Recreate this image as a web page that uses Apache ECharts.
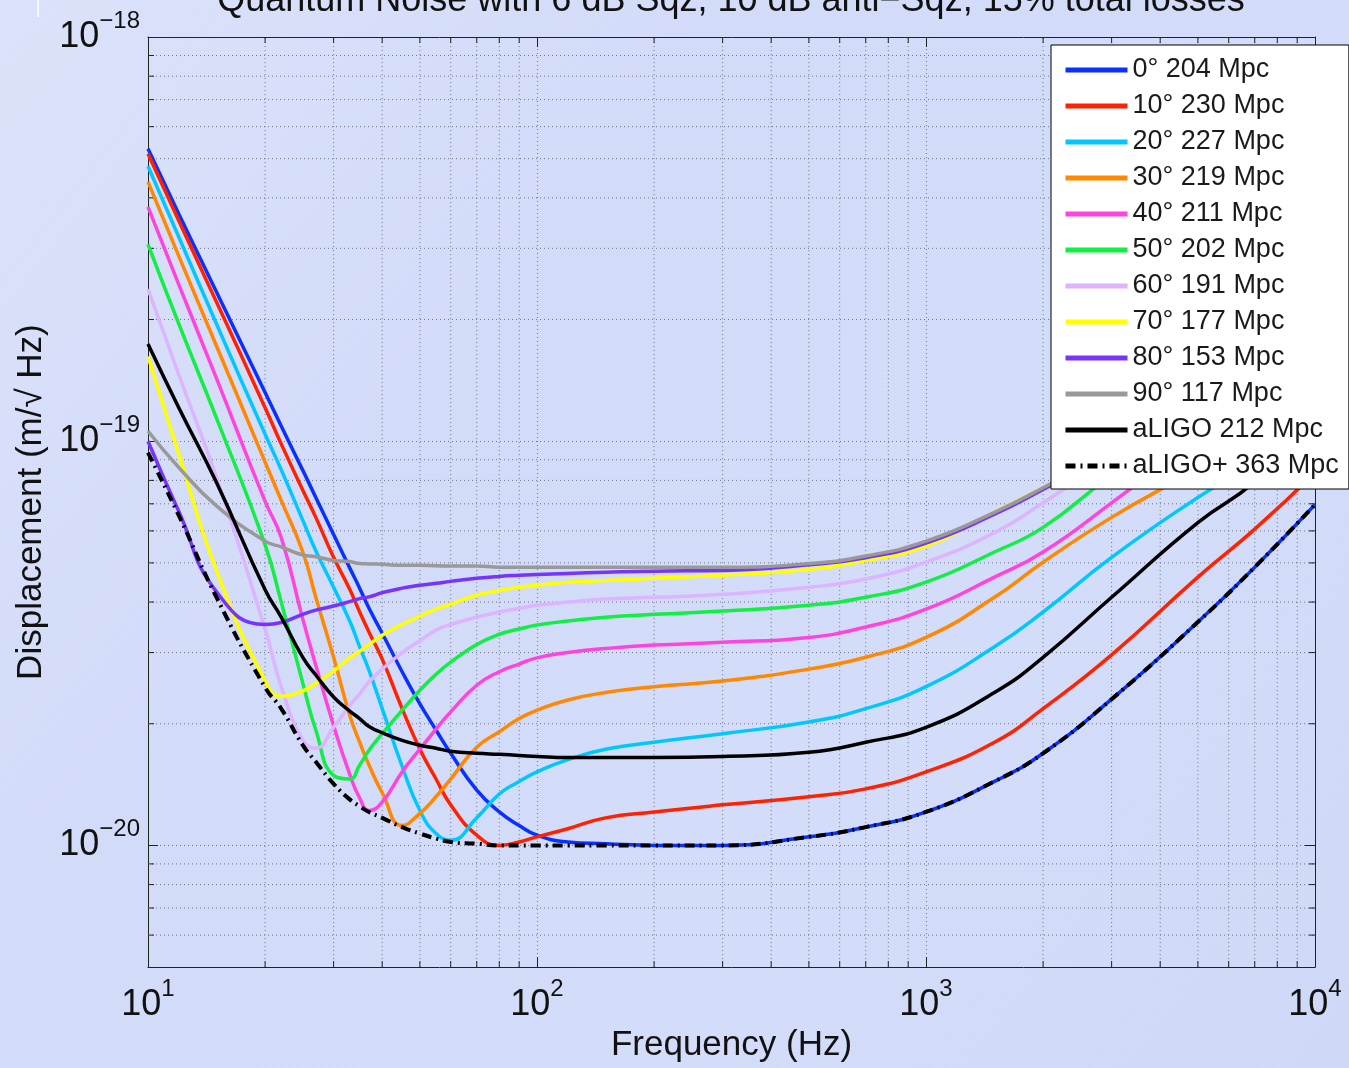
<!DOCTYPE html>
<html><head><meta charset="utf-8">
<script src="https://cdn.jsdelivr.net/npm/echarts@6/dist/echarts.min.js"></script>
<style>html,body{margin:0;padding:0;background:#d4ddf8;}#c{width:1349px;height:1068px;}</style>
</head><body><div id="c"></div>
<script>
// Frequencies (Hz) shared by all curves
const freqs = [10,12,15,20,22,25,27,30,33,35,37,40,45,50,55,60,70,80,90,100,120,150,200,300,500,700,1000,1500,2000,3000,5000,7000,10000];
// Displacement noise (m/sqrt(Hz)) per squeeze angle
const sqz0  = [5.29e-19,3.65e-19,2.34e-19,1.32e-19,1.09e-19,8.47e-20,7.26e-20,5.88e-20,4.86e-20,4.33e-20,3.86e-20,3.35e-20,2.69e-20,2.24e-20,1.93e-20,1.69e-20,1.37e-20,1.21e-20,1.12e-20,1.06e-20,1.02e-20,1.01e-20,1.00e-20,1.00e-20,1.05e-20,1.11e-20,1.21e-20,1.44e-20,1.69e-20,2.30e-20,3.57e-20,4.88e-20,6.97e-20];
const sqz10 = [5.14e-19,3.51e-19,2.21e-19,1.21e-19,9.85e-20,7.56e-20,6.48e-20,5.16e-20,4.30e-20,3.78e-20,3.37e-20,2.89e-20,2.18e-20,1.73e-20,1.46e-20,1.26e-20,1.06e-20,1.00e-20,1.02e-20,1.05e-20,1.10e-20,1.17e-20,1.21e-20,1.26e-20,1.32e-20,1.38e-20,1.52e-20,1.80e-20,2.18e-20,2.96e-20,4.61e-20,6.06e-20,8.36e-20];
const sqz20 = [4.79e-19,3.20e-19,1.95e-19,1.04e-19,8.50e-20,6.37e-20,5.36e-20,4.35e-20,3.59e-20,3.10e-20,2.71e-20,2.18e-20,1.57e-20,1.22e-20,1.07e-20,1.03e-20,1.17e-20,1.34e-20,1.44e-20,1.52e-20,1.63e-20,1.73e-20,1.80e-20,1.89e-20,2.02e-20,2.18e-20,2.47e-20,3.10e-20,3.78e-20,5.16e-20,7.26e-20,8.86e-20,1.21e-19];
const sqz30 = [4.38e-19,2.87e-19,1.72e-19,8.88e-20,7.14e-20,5.32e-20,4.11e-20,2.92e-20,2.10e-20,1.80e-20,1.58e-20,1.35e-20,1.12e-20,1.20e-20,1.32e-20,1.46e-20,1.75e-20,1.91e-20,2.06e-20,2.16e-20,2.29e-20,2.39e-20,2.47e-20,2.55e-20,2.73e-20,2.92e-20,3.27e-20,4.11e-20,5.02e-20,6.48e-20,8.61e-20,1.08e-19,1.47e-19];
const sqz40 = [3.80e-19,2.44e-19,1.43e-19,7.10e-20,5.78e-20,3.63e-20,2.79e-20,1.98e-20,1.50e-20,1.31e-20,1.22e-20,1.28e-20,1.52e-20,1.73e-20,1.94e-20,2.14e-20,2.49e-20,2.69e-20,2.81e-20,2.91e-20,3.00e-20,3.07e-20,3.13e-20,3.18e-20,3.27e-20,3.47e-20,3.84e-20,4.61e-20,5.32e-20,7.04e-20,1.02e-19,1.28e-19,1.69e-19];
const sqz50 = [3.07e-19,1.95e-19,1.14e-19,5.54e-20,4.00e-20,2.52e-20,1.93e-20,1.49e-20,1.46e-20,1.58e-20,1.72e-20,1.89e-20,2.16e-20,2.42e-20,2.65e-20,2.84e-20,3.14e-20,3.33e-20,3.43e-20,3.51e-20,3.59e-20,3.67e-20,3.73e-20,3.80e-20,3.93e-20,4.11e-20,4.48e-20,5.32e-20,6.12e-20,8.23e-20,1.14e-19,1.43e-19,1.90e-19];
const sqz60 = [2.38e-19,1.46e-19,8.13e-20,3.43e-20,2.47e-20,1.82e-20,1.74e-20,1.96e-20,2.22e-20,2.37e-20,2.54e-20,2.73e-20,3.00e-20,3.21e-20,3.41e-20,3.52e-20,3.67e-20,3.78e-20,3.86e-20,3.93e-20,4.00e-20,4.07e-20,4.11e-20,4.18e-20,4.35e-20,4.56e-20,5.02e-20,5.94e-20,7.04e-20,9.11e-20,1.21e-19,1.51e-19,2.01e-19];
const sqz70 = [1.62e-19,9.29e-20,4.79e-20,2.55e-20,2.34e-20,2.41e-20,2.52e-20,2.70e-20,2.91e-20,3.02e-20,3.14e-20,3.31e-20,3.52e-20,3.69e-20,3.84e-20,3.95e-20,4.16e-20,4.27e-20,4.35e-20,4.40e-20,4.48e-20,4.52e-20,4.58e-20,4.66e-20,4.82e-20,5.07e-20,5.50e-20,6.67e-20,7.67e-20,9.37e-20,1.24e-19,1.56e-19,2.07e-19];
const sqz80 = [1.00e-19,6.70e-20,4.24e-20,3.52e-20,3.56e-20,3.73e-20,3.82e-20,3.91e-20,4.01e-20,4.08e-20,4.12e-20,4.22e-20,4.33e-20,4.40e-20,4.45e-20,4.50e-20,4.58e-20,4.63e-20,4.66e-20,4.68e-20,4.71e-20,4.74e-20,4.77e-20,4.79e-20,4.95e-20,5.15e-20,5.60e-20,6.60e-20,7.60e-20,9.40e-20,1.25e-19,1.57e-19,2.08e-19];
const sqz90 = [1.06e-19,8.61e-20,6.92e-20,5.66e-20,5.48e-20,5.23e-20,5.18e-20,5.07e-20,5.04e-20,4.98e-20,4.97e-20,4.96e-20,4.93e-20,4.93e-20,4.92e-20,4.91e-20,4.91e-20,4.88e-20,4.88e-20,4.88e-20,4.88e-20,4.88e-20,4.88e-20,4.88e-20,4.98e-20,5.20e-20,5.66e-20,6.67e-20,7.67e-20,9.50e-20,1.26e-19,1.58e-19,2.10e-19];
const aligo = [1.74e-19,1.21e-19,7.90e-20,4.29e-20,3.67e-20,2.92e-20,2.64e-20,2.33e-20,2.15e-20,2.06e-20,1.97e-20,1.90e-20,1.82e-20,1.77e-20,1.74e-20,1.71e-20,1.69e-20,1.68e-20,1.67e-20,1.66e-20,1.65e-20,1.65e-20,1.65e-20,1.66e-20,1.70e-20,1.80e-20,1.96e-20,2.39e-20,2.92e-20,4.11e-20,6.29e-20,7.93e-20,1.11e-19];
const aligoPlus = [9.37e-20,6.55e-20,4.11e-20,2.46e-20,2.18e-20,1.77e-20,1.61e-20,1.42e-20,1.30e-20,1.25e-20,1.21e-20,1.17e-20,1.11e-20,1.07e-20,1.04e-20,1.02e-20,1.01e-20,1.00e-20,1.00e-20,1.00e-20,1.00e-20,1.00e-20,1.00e-20,1.00e-20,1.05e-20,1.11e-20,1.21e-20,1.44e-20,1.69e-20,2.30e-20,3.57e-20,4.88e-20,6.97e-20];

const seriesNames = ['0° 204 Mpc','10° 230 Mpc','20° 227 Mpc','30° 219 Mpc','40° 211 Mpc','50° 202 Mpc','60° 191 Mpc','70° 177 Mpc','80° 153 Mpc','90° 117 Mpc','aLIGO 212 Mpc','aLIGO+ 363 Mpc'];
const seriesValues = [sqz0,sqz10,sqz20,sqz30,sqz40,sqz50,sqz60,sqz70,sqz80,sqz90,aligo,aligoPlus];
const seriesColors = ['#0a30ff','#ff2200','#00c8ff','#ff8800','#ff44dd','#11ee44','#dcb4ff','#ffff00','#7733ff','#999999','#000000','#000000'];

const xRange = [10, 10000];
const yRange = [5e-21, 1e-18];
const xMinorTicks = [20,30,40,50,60,70,80,90,200,300,400,500,600,700,800,900,2000,3000,4000,5000,6000,7000,8000,9000];
const yMinorTicks = [6e-21,7e-21,8e-21,9e-21,2e-20,3e-20,4e-20,5e-20,6e-20,7e-20,8e-20,9e-20,2e-19,3e-19,4e-19,5e-19,6e-19,7e-19,8e-19,9e-19];

// The y axis is plotted in units of 1e-21 m/sqrt(Hz) (ECharts log scale rounds tiny numbers to 0)
const UNIT_EXP = -21;
const UNIT = 1e-21;
const toUnit = v => v / UNIT;

const FONT = '"Liberation Sans", Arial, Helvetica, sans-serif';
const gridDot = {stroke:'#6f7488', lineWidth:1, lineDash:[1,3]};
const tickSt = {stroke:'#222', lineWidth:1};

function powLabel(v, shift){
  const l = Math.log10(v), e = Math.round(l);
  if (Math.abs(l - e) > 1e-6) return '';
  const p = e + shift;
  return '{b|10}{s|' + (p < 0 ? '\u2212' + (-p) : p) + '}';
}
const richLab = {
  b:{fontSize:36, lineHeight:56, fontFamily:FONT, color:'#111'},
  s:{fontSize:24, lineHeight:24, verticalAlign:'top', fontFamily:FONT, color:'#111'}
};

const chart = echarts.init(document.getElementById('c'), null, {renderer:'canvas'});

const lineSeries = seriesNames.map((n, i) => ({
  name:n, type:'line', symbol:'none', smooth:0.5,
  data: freqs.map((f, j) => [f, toUnit(seriesValues[i][j])]),
  lineStyle:{color:seriesColors[i], width: i===11 ? 4 : 3.5, type: i===11 ? [10,5,2,5] : 'solid'},
  itemStyle:{color:seriesColors[i]},
  z:3, animation:false, silent:true
}));

const yMin = toUnit(yRange[0]), yMax = toUnit(yRange[1]);

const option = {
  backgroundColor:{type:'linear', x:0, y:0, x2:1, y2:1, colorStops:[
    {offset:0, color:'#dbe2fa'},{offset:0.35, color:'#d2dbf8'},{offset:0.7, color:'#d3dcf8'},{offset:1, color:'#cfd8f6'}]},
  animation:false,
  textStyle:{fontFamily:FONT},
  graphic:[
    {type:'text', x:731, y:19, z:10, style:{text:'Quantum Noise with 6 dB Sqz, 10 dB anti\u2212Sqz, 15% total losses', fontSize:36, fontFamily:FONT, fill:'#111', align:'center', verticalAlign:'bottom'}},
    {type:'line', shape:{x1:38, y1:0, x2:38, y2:17}, style:{stroke:'#ffffff', lineWidth:1.5}}
  ],
  grid:{left:148, right:34, top:37, bottom:96, containLabel:false},
  legend:{
    orient:'vertical', left:1051, top:45, z:20,
    data:seriesNames,
    backgroundColor:'#ffffff', borderColor:'#000', borderWidth:1,
    padding:[10,10,8,12], itemWidth:62, itemHeight:12, itemGap:6,
    selectedMode:false,
    lineStyle:{width:5},
    itemStyle:{opacity:0},
    textStyle:{fontSize:27, lineHeight:30, color:'#1a1a1a', fontFamily:FONT}
  },
  xAxis:[
    {type:'log', logBase:10, min:xRange[0], max:xRange[1], position:'bottom',
     name:'Frequency (Hz)', nameLocation:'middle', nameGap:58,
     nameTextStyle:{fontSize:35, color:'#111', fontFamily:FONT},
     axisLine:{onZero:false, lineStyle:{color:'#222', width:1}},
     axisTick:{inside:true, length:10, lineStyle:{color:'#222'}},
     axisLabel:{formatter:v => powLabel(v, 0), rich:richLab, margin:10, showMinLabel:true, showMaxLabel:true},
     splitLine:{show:true, lineStyle:{color:'#6f7488', type:[1,3], width:1}}},
    {type:'log', logBase:10, min:xRange[0], max:xRange[1], position:'top',
     axisLine:{onZero:false, lineStyle:{color:'#222', width:1}},
     axisTick:{inside:true, length:10, lineStyle:{color:'#222'}},
     axisLabel:{show:false}, splitLine:{show:false}}
  ],
  yAxis:[
    {type:'log', logBase:10, min:yMin, max:yMax, position:'left',
     name:'Displacement (m/\u221A Hz)', nameLocation:'middle', nameGap:99,
     nameTextStyle:{fontSize:35, color:'#111', fontFamily:FONT},
     axisLine:{onZero:false, lineStyle:{color:'#222', width:1}},
     axisTick:{inside:true, length:10, lineStyle:{color:'#222'}},
     axisLabel:{formatter:v => powLabel(v, UNIT_EXP), rich:richLab, margin:8},
     splitLine:{show:true, lineStyle:{color:'#6f7488', type:[1,3], width:1}}},
    {type:'log', logBase:10, min:yMin, max:yMax, position:'right',
     axisLine:{onZero:false, lineStyle:{color:'#222', width:1}},
     axisTick:{inside:true, length:10, lineStyle:{color:'#222'}},
     axisLabel:{show:false}, splitLine:{show:false}}
  ],
  series:[
    {type:'custom', name:'xminor', z:1, silent:true, clip:false,
     data: xMinorTicks.map(v => [v, yMin]),
     renderItem:function(params, api){
       const v = api.value(0);
       const b = api.coord([v, yMin]), t = api.coord([v, yMax]);
       return {type:'group', children:[
         {type:'line', shape:{x1:b[0], y1:b[1], x2:t[0], y2:t[1]}, style:gridDot},
         {type:'line', shape:{x1:b[0], y1:b[1], x2:b[0], y2:b[1]-6}, style:tickSt},
         {type:'line', shape:{x1:t[0], y1:t[1], x2:t[0], y2:t[1]+6}, style:tickSt}
       ]};
     }},
    {type:'custom', name:'yminor', z:1, silent:true, clip:false,
     data: yMinorTicks.map(v => [xRange[0], toUnit(v)]),
     renderItem:function(params, api){
       const v = api.value(1);
       const l = api.coord([xRange[0], v]), r = api.coord([xRange[1], v]);
       return {type:'group', children:[
         {type:'line', shape:{x1:l[0], y1:l[1], x2:r[0], y2:r[1]}, style:gridDot},
         {type:'line', shape:{x1:l[0], y1:l[1], x2:l[0]+6, y2:l[1]}, style:tickSt},
         {type:'line', shape:{x1:r[0], y1:r[1], x2:r[0]-6, y2:r[1]}, style:tickSt}
       ]};
     }}
  ].concat(lineSeries)
};
chart.setOption(option);
</script>
</body></html>
